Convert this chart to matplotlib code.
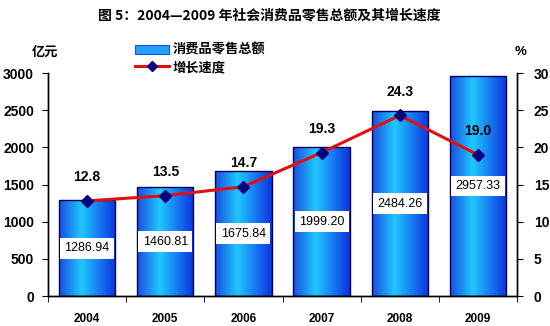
# Retail sales of consumer goods 2004-2009 with annual growth rate.

import numpy as np
import matplotlib
matplotlib.use("Agg")
import matplotlib.pyplot as plt
import matplotlib.colors as mcolors
from matplotlib.patches import Patch
from matplotlib.lines import Line2D

plt.rcParams["font.family"] = ["Liberation Sans", "Noto Sans CJK SC", "DejaVu Sans"]

years = ["2004", "2005", "2006", "2007", "2008", "2009"]
sales = [1286.94, 1460.81, 1675.84, 1999.20, 2484.26, 2957.33]
growth = [12.8, 13.5, 14.7, 19.3, 24.3, 19.0]

CJK = ["Noto Sans CJK SC", "DejaVu Sans"]

fig = plt.figure(figsize=(5.5, 3.26), dpi=100)
ax = fig.add_axes([0.0873, 0.092, 0.8527, 0.684])
ax2 = ax.twinx()

# horizontal blue gradient for the bars
grad_cmap = mcolors.LinearSegmentedColormap.from_list(
    "barblue", [(0.0, "#1a4fe0"), (0.4, "#20c8ff"), (0.75, "#1670f0"), (1.0, "#0a36dc")])
grad = np.linspace(0, 1, 64).reshape(1, -1)

x = np.arange(len(years))
width = 0.72
for xi, v in zip(x, sales):
    ax.imshow(grad, cmap=grad_cmap, aspect="auto", interpolation="bilinear",
              extent=(xi - width / 2, xi + width / 2, 0, v), zorder=2)
bars = ax.bar(x, sales, width=width, facecolor="none", edgecolor="#000060",
              linewidth=1.0, zorder=3)

for xi, v in zip(x, sales):
    ax.text(xi, v / 2, f"{v:.2f}", ha="center", va="center", fontsize=9,
            zorder=5, bbox=dict(boxstyle="square,pad=0.35", fc="white", ec="none"))

ax.set_xlim(-0.5, len(years) - 0.5)
ax.set_ylim(0, 3000)
ax.set_yticks(range(0, 3001, 500))
ax.set_xticks(x)
ax.set_xticklabels(years, fontweight="bold", fontsize=8.5)
ax.set_xticks(np.arange(-0.5, len(years), 1.0), minor=True)
ax.tick_params(axis="x", which="major", length=0, pad=12)
ax.tick_params(axis="x", which="minor", length=4, direction="out")
ax.tick_params(axis="y", length=4, labelsize=10, pad=6)
for lab in ax.get_yticklabels():
    lab.set_fontweight("bold")

ax2.plot(x, growth, color="#e01010", lw=2.2, marker="D", markersize=6,
         markerfacecolor="#000080", markeredgecolor="#000080", zorder=6)
for xi, g in zip(x, growth):
    ax2.annotate(f"{g:.1f}", (xi, g), xytext=(0, 17), textcoords="offset points",
                 ha="center", va="center", fontsize=10, fontweight="bold")
ax2.set_ylim(0, 30)
ax2.set_yticks(range(0, 31, 5))
ax2.tick_params(axis="y", length=4, labelsize=10, pad=8)
for lab in ax2.get_yticklabels():
    lab.set_fontweight("bold")
ax2.set_zorder(ax.get_zorder() + 1)
ax2.patch.set_visible(False)

for a in (ax, ax2):
    a.spines["top"].set_visible(False)
    a.spines["left"].set_linewidth(1.0)
    a.spines["right"].set_linewidth(1.0)
    a.spines["bottom"].set_linewidth(1.0)

fig.text(0.49, 0.953, "图 5：2004—2009 年社会消费品零售总额及其增长速度",
         ha="center", va="center", fontsize=10, fontweight="bold", family=CJK)
fig.text(0.082, 0.84, "亿元", ha="center", va="center", fontsize=9.5,
         fontweight="bold", family=CJK)
fig.text(0.947, 0.84, "%", ha="center", va="center", fontsize=9.5, fontweight="bold")

handles = [Patch(facecolor="#20a0ff", edgecolor="#1a4fe0", lw=0.8),
           Line2D([], [], color="#e01010", lw=2.2, marker="D", markersize=5,
                  markerfacecolor="#000080", markeredgecolor="#000080")]
leg = fig.legend(handles, ["消费品零售总额", "增长速度"], loc="upper left",
                 bbox_to_anchor=(0.235, 0.885), frameon=False, handlelength=2.6,
                 handletextpad=0.3, labelspacing=0.25, borderaxespad=0,
                 prop=dict(family=CJK, weight="bold", size=9.5))

fig.savefig("out.png", dpi=100)
